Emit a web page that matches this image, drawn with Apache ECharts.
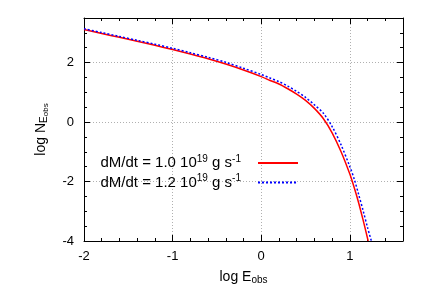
<!DOCTYPE html>
<html><head><meta charset="utf-8">
<script src="https://cdn.jsdelivr.net/npm/echarts@6/dist/echarts.min.js"></script>
<style>html,body{margin:0;padding:0;background:#fff}#c{width:436px;height:305px}</style>
</head><body><div id="c"></div>
<script>
// Data
const xRed  = [-2, -1.8, -1.6, -1.4, -1.2, -1.0, -0.8, -0.6, -0.4, -0.2, 0.0, 0.1, 0.2, 0.3, 0.4, 0.5, 0.6, 0.7, 0.8, 0.9, 1.0, 1.05, 1.1, 1.15, 1.207];
const yRed  = [3.11, 2.98, 2.85, 2.72, 2.58, 2.44, 2.29, 2.13, 1.95, 1.75, 1.53, 1.40, 1.28, 1.12, 0.94, 0.73, 0.46, 0.12, -0.36, -0.99, -1.75, -2.21, -2.72, -3.30, -4.0];
const xBlue = [-2, -1.8, -1.6, -1.4, -1.2, -1.0, -0.8, -0.6, -0.4, -0.2, 0.0, 0.1, 0.2, 0.3, 0.4, 0.5, 0.6, 0.7, 0.8, 0.9, 1.0, 1.05, 1.1, 1.15, 1.2, 1.243];
const yBlue = [3.14, 3.01, 2.88, 2.75, 2.62, 2.48, 2.33, 2.18, 2.01, 1.81, 1.60, 1.48, 1.36, 1.21, 1.03, 0.83, 0.58, 0.30, -0.15, -0.76, -1.50, -1.92, -2.44, -2.98, -3.55, -4.0];
const seriesNames = ['dM/dt = 1.0 10{sup|19} g s{sup|-1}', 'dM/dt = 1.2 10{sup|19} g s{sup|-1}'];
const xTitle = 'log E{sub|obs}';
const yTitle = 'log N{sub|E}{sub2|obs}';

const FONT = 'Liberation Sans';
const pairs = (xs, ys) => xs.map((x, i) => [x, ys[i]]);

const baseX = {type: 'value', min: -2, max: 1.6, gridIndex: 0};
const baseY = {type: 'value', min: -4, max: 3.5, gridIndex: 0};
const split = {show: true, lineStyle: {color: '#b0b0b0', type: [1, 2], width: 1}};
const axLine = {show: true, onZero: false, lineStyle: {color: '#000', width: 1}};
const noLine = {show: false, onZero: false};
const majTick = {show: true, inside: true, length: 6, lineStyle: {color: '#000'}};
const minTick = {show: true, inside: true, length: 3, lineStyle: {color: '#000'}};

const chart = echarts.init(document.getElementById('c'), null, {renderer: 'canvas'});
chart.setOption({
  animation: false,
  backgroundColor: '#fff',
  textStyle: {fontFamily: FONT},
  grid: {left: 84, right: 33, top: 18, bottom: 64, containLabel: false},
  xAxis: [
    Object.assign({}, baseX, {position: 'bottom', interval: 1,
      axisLine: axLine, axisTick: majTick,
      axisLabel: {show: true, showMaxLabel: false, margin: 9, color: '#000', fontSize: 13, fontFamily: FONT},
      splitLine: split,
      name: xTitle, nameLocation: 'middle', nameGap: 27,
      nameTextStyle: {color: '#000', fontSize: 14, fontFamily: FONT, lineHeight: 18,
        rich: {sub: {fontSize: 10, fontFamily: FONT, color: '#000', padding: [0, 0, -6, 0]}}}}),
    Object.assign({}, baseX, {position: 'bottom', interval: 0.2,
      axisLine: noLine, axisTick: minTick, axisLabel: {show: false}, splitLine: {show: false}}),
    Object.assign({}, baseX, {position: 'top', interval: 1,
      axisLine: axLine, axisTick: majTick, axisLabel: {show: false}, splitLine: {show: false}}),
    Object.assign({}, baseX, {position: 'top', interval: 0.2,
      axisLine: noLine, axisTick: minTick, axisLabel: {show: false}, splitLine: {show: false}})
  ],
  yAxis: [
    Object.assign({}, baseY, {position: 'left', interval: 2,
      axisLine: axLine, axisTick: majTick,
      axisLabel: {show: true, showMaxLabel: false, margin: 10, color: '#000', fontSize: 13, fontFamily: FONT},
      splitLine: split,
      name: yTitle, nameLocation: 'middle', nameGap: 34, nameRotate: 90,
      nameTextStyle: {color: '#000', fontSize: 14, fontFamily: FONT, lineHeight: 18,
        rich: {sub: {fontSize: 10, fontFamily: FONT, color: '#000', padding: [0, 0, -6, 0]},
               sub2: {fontSize: 8, fontFamily: FONT, color: '#000', padding: [0, 0, -10, 0]}}}}),
    Object.assign({}, baseY, {position: 'left', interval: 0.5,
      axisLine: noLine, axisTick: minTick, axisLabel: {show: false}, splitLine: {show: false}}),
    Object.assign({}, baseY, {position: 'right', interval: 2,
      axisLine: axLine, axisTick: majTick, axisLabel: {show: false}, splitLine: {show: false}}),
    Object.assign({}, baseY, {position: 'right', interval: 0.5,
      axisLine: noLine, axisTick: minTick, axisLabel: {show: false}, splitLine: {show: false}})
  ],
  legend: {
    orient: 'vertical', align: 'right', right: 132, top: 149,
    itemWidth: 40, itemHeight: 10, itemGap: 2,
    itemStyle: {opacity: 0},
    textStyle: {color: '#000', fontSize: 15, fontFamily: FONT, lineHeight: 17, padding: [0, 12, 0, 0],
      rich: {sup: {fontSize: 10, fontFamily: FONT, color: '#000', padding: [0, 0, 8, 0]}}},
    data: seriesNames
  },
  series: [
    {name: seriesNames[0], type: 'line', xAxisIndex: 0, yAxisIndex: 0, data: pairs(xRed, yRed),
      showSymbol: false, symbol: 'none', smooth: 0.3, z: 3,
      lineStyle: {color: '#ff0000', width: 1.5, type: 'solid'}, itemStyle: {color: '#ff0000'}},
    {name: seriesNames[1], type: 'line', xAxisIndex: 0, yAxisIndex: 0, data: pairs(xBlue, yBlue),
      showSymbol: false, symbol: 'none', smooth: 0.3, z: 4,
      lineStyle: {color: '#0000ff', width: 1.5, type: [2, 2]}, itemStyle: {color: '#0000ff'}}
  ]
});
</script></body></html>
